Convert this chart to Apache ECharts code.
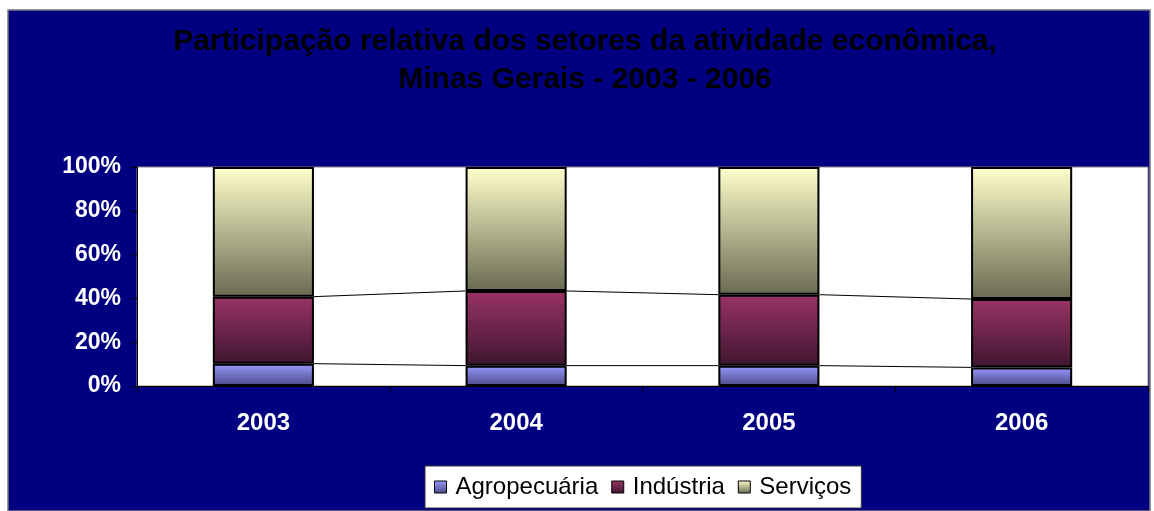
<!DOCTYPE html>
<html>
<head>
<meta charset="utf-8">
<script src="https://cdn.jsdelivr.net/npm/echarts@6/dist/echarts.min.js"></script>
<style>
  html, body { margin: 0; padding: 0; background: #fff; }
  #chart { width: 1154px; height: 511px; }
</style>
</head>
<body>
<div id="chart"></div>
<script>
const years = ['2003', '2004', '2005', '2006']
const agropecuaria = [10.2, 9.3, 9.3, 8.5]
const industria = [30.6, 34.1, 32.4, 31.2]
const servicos = [59.2, 56.6, 58.3, 60.3]
const yTicks = [0, 20, 40, 60, 80, 100]

const grad = (top, bottom) => new echarts.graphic.LinearGradient(0, 0, 0, 1, [
  { offset: 0, color: top },
  { offset: 1, color: bottom }
])

// cumulative tops used by the series lines between bars
const cumAgro = agropecuaria.map(v => v)
const cumInd = agropecuaria.map((v, i) => v + industria[i])
const linkData = []
for (let i = 0; i < years.length - 1; i++) {
  linkData.push([i, cumAgro[i], cumAgro[i + 1]])
  linkData.push([i, cumInd[i], cumInd[i + 1]])
}

const chart = echarts.init(document.getElementById('chart'))
const font = 'Liberation Sans, Arial, sans-serif'

chart.setOption({
  animation: false,
  backgroundColor: '#fff',
  graphic: [
    { type: 'rect', shape: { x: 8, y: 10, width: 1142, height: 501 },
      style: { fill: '#000080', stroke: '#777', lineWidth: 1.5 }, z: -10 }
  ],
  title: {
    text: 'Participação relativa dos setores da atividade econômica,\nMinas Gerais - 2003 - 2006',
    left: 580,
    textAlign: 'center',
    top: 18,
    textStyle: { color: '#000', fontFamily: font, fontWeight: 'bold', fontSize: 30, lineHeight: 38 }
  },
  legend: {
    data: ['Agropecuária', 'Indústria', 'Serviços'],
    left: 425,
    top: 466,
    backgroundColor: '#fff',
    borderColor: '#333',
    borderWidth: 1,
    padding: [9, 10, 9, 9],
    itemGap: 13,
    itemWidth: 12,
    itemHeight: 12,
    icon: 'rect',
    itemStyle: { borderColor: '#000', borderWidth: 1 },
    textStyle: { color: '#000', fontFamily: font, fontSize: 24, padding: [0, 0, 0, 4] }
  },
  grid: {
    left: 137, right: 6, top: 167, bottom: 125,
    show: true, backgroundColor: '#fff', borderColor: '#888', borderWidth: 1
  },
  xAxis: {
    type: 'category',
    data: years,
    axisLine: { lineStyle: { color: '#000', width: 1 } },
    axisTick: { show: true, length: 6, lineStyle: { color: '#000' } },
    axisLabel: { color: '#fff', fontFamily: font, fontWeight: 'bold', fontSize: 24, margin: 25 }
  },
  yAxis: {
    type: 'value',
    min: yTicks[0], max: yTicks[yTicks.length - 1], interval: yTicks[1] - yTicks[0],
    axisLine: { show: true, lineStyle: { color: '#000', width: 1 } },
    axisTick: { show: true, length: 6, lineStyle: { color: '#000' } },
    splitLine: { show: false },
    axisLabel: { color: '#fff', fontFamily: font, fontWeight: 'bold', fontSize: 23, margin: 16, formatter: '{value}%' }
  },
  series: [
    {
      name: 'Agropecuária', type: 'bar', stack: 'total', barWidth: '40%',
      data: agropecuaria,
      itemStyle: { color: grad('#9999ff', '#4a4a86'), borderColor: '#000', borderWidth: 2 }
    },
    {
      name: 'Indústria', type: 'bar', stack: 'total', barWidth: '40%',
      data: industria,
      itemStyle: { color: grad('#993366', '#3f1630'), borderColor: '#000', borderWidth: 2 }
    },
    {
      name: 'Serviços', type: 'bar', stack: 'total', barWidth: '40%',
      data: servicos,
      itemStyle: { color: grad('#ffffcc', '#6a6a52'), borderColor: '#000', borderWidth: 2 }
    },
    {
      // series lines connecting stacked segments between bars
      type: 'custom',
      name: 'links',
      data: linkData,
      encode: { x: 0, y: 1 },
      silent: true,
      z: 1,
      renderItem: (params, api) => {
        const i = api.value(0)
        const half = api.size([1, 0])[0] * 0.2
        const p1 = api.coord([i, api.value(1)])
        const p2 = api.coord([i + 1, api.value(2)])
        return {
          type: 'line',
          shape: { x1: p1[0] + half, y1: p1[1], x2: p2[0] - half, y2: p2[1] },
          style: { stroke: '#000', lineWidth: 1 }
        }
      }
    }
  ]
})
</script>
</body>
</html>
